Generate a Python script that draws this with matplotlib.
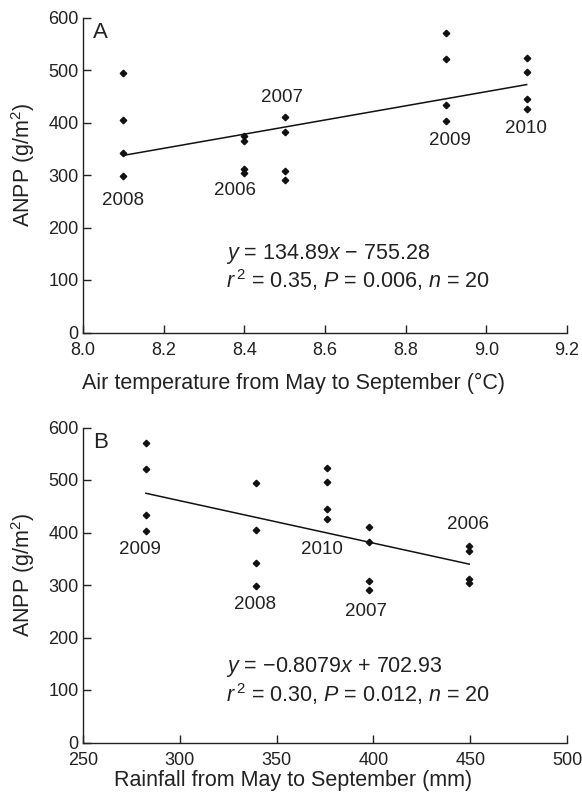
import matplotlib
matplotlib.use("Agg")
import matplotlib.pyplot as plt

plt.rcParams['font.family'] = ['Liberation Sans', 'DejaVu Sans']
plt.rcParams['mathtext.fontset'] = 'custom'
plt.rcParams['mathtext.rm'] = 'Liberation Sans'
plt.rcParams['mathtext.it'] = 'Liberation Sans:italic'
plt.rcParams['mathtext.default'] = 'regular'

# ---- data ----
years = ['2006', '2007', '2008', '2009', '2010']
temperature = [8.4, 8.5, 8.1, 8.9, 9.1]
rainfall = [449.5, 397.7, 339.5, 282.5, 376.2]
anpp_2006 = [374, 365, 311, 303]
anpp_2007 = [410, 381, 308, 290]
anpp_2008 = [495, 405, 342, 299]
anpp_2009 = [570, 521, 434, 403]
anpp_2010 = [523, 497, 444, 426]
anpp = [anpp_2006, anpp_2007, anpp_2008, anpp_2009, anpp_2010]

fitA = (134.89, -755.28)
fitB = (-0.8079, 702.93)

# label positions (data coords)
labA = {'2008': (8.1, 252), '2006': (8.377, 270), '2007': (8.494, 448),
        '2009': (8.911, 365), '2010': (9.098, 389)}
labB = {'2009': (279.6, 367), '2008': (338.6, 262), '2010': (373.3, 367),
        '2007': (396.2, 250), '2006': (448.7, 416)}

fig = plt.figure(figsize=(5.82, 8.0), dpi=100)
axA = fig.add_axes([83/582, 1-332.5/800, 484/582, 315/800])
axB = fig.add_axes([83/582, 1-742.5/800, 484/582, 315/800])

TXT = '#222222'


def style(ax):
    for s in ['top', 'right']:
        ax.spines[s].set_visible(False)
    for s in ['left', 'bottom']:
        ax.spines[s].set_linewidth(1.0)
        ax.spines[s].set_color(TXT)
    ax.tick_params(direction='in', length=6, width=1.0, labelsize=13,
                   colors=TXT)
    ax.tick_params(axis='y', pad=3)
    ax.tick_params(axis='x', pad=7)
    ax.set_ylim(0, 600)
    ax.set_yticks([0, 100, 200, 300, 400, 500, 600])
    ax.set_ylabel('ANPP (g/m$^2$)', fontsize=15.5, color=TXT)
    ax.yaxis.set_label_coords(-0.095, 0.532)


def panel(ax, xs, fit, labs, letter, eq1, eq2, ex, ey1, ey2):
    style(ax)
    for x, ys in zip(xs, anpp):
        ax.plot([x]*len(ys), ys, linestyle='none', marker='D', markersize=3.3,
                color='#111111')
    x0, x1 = min(xs), max(xs)
    ax.plot([x0, x1], [fit[0]*x0 + fit[1], fit[0]*x1 + fit[1]],
            color='#111111', lw=1.1)
    for k, (lx, ly) in labs.items():
        ax.text(lx, ly, k, ha='center', va='center', fontsize=13.5, color=TXT)
    ax.text(ex, ey1, eq1, ha='left', va='center', fontsize=15.5, color=TXT)
    ax.text(ex, ey2, eq2, ha='left', va='center', fontsize=15.5, color=TXT)
    ax.text(0.02, 0.952, letter, transform=ax.transAxes, ha='left',
            va='center', fontsize=16, color=TXT)


panel(axA, temperature, fitA, labA, 'A',
      '$\\mathit{y}$ = 134.89$\\mathit{x}$ − 755.28',
      '$\\mathit{r}^{\\,2}$ = 0.35, $\\mathit{P}$ = 0.006, $\\mathit{n}$ = 20',
      8.354, 149.5, 100)
axA.set_xlim(8.0, 9.2)
axA.set_xticks([8.0, 8.2, 8.4, 8.6, 8.8, 9.0, 9.2])
axA.set_xticklabels(['8.0', '8.2', '8.4', '8.6', '8.8', '9.0', '9.2'])
axA.set_xlabel('Air temperature from May to September (°C)', fontsize=15.5,
               color=TXT)
axA.xaxis.set_label_coords(0.434, -0.127)

panel(axB, rainfall, fitB, labB, 'B',
      '$\\mathit{y}$ = −0.8079$\\mathit{x}$ + 702.93',
      '$\\mathit{r}^{\\,2}$ = 0.30, $\\mathit{P}$ = 0.012, $\\mathit{n}$ = 20',
      323.9, 143, 92)
axB.set_xlim(250, 500)
axB.set_xticks([250, 300, 350, 400, 450, 500])
axB.set_xlabel('Rainfall from May to September (mm)', fontsize=15.5,
               color=TXT)
axB.xaxis.set_label_coords(0.434, -0.088)

fig.savefig('out.png', dpi=100)
